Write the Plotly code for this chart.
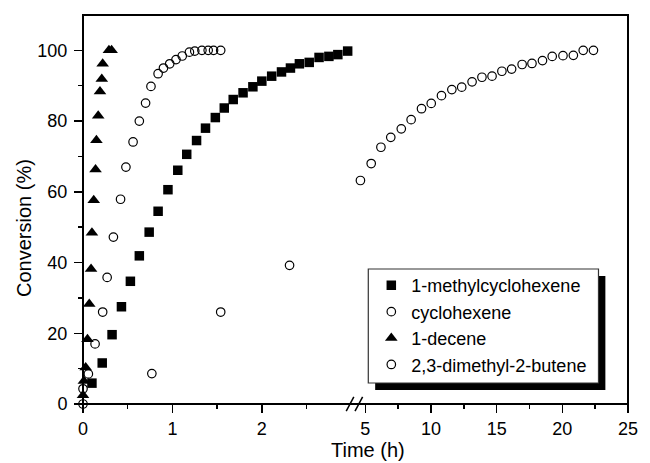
import plotly.graph_objects as go

# ---------------- data ----------------
methylcyclohexene_t = [0.10, 0.215, 0.325, 0.43, 0.53, 0.63, 0.74, 0.84, 0.95, 1.06, 1.16, 1.27,
                       1.37, 1.48, 1.58, 1.68, 1.79, 1.90, 2.00, 2.11, 2.22, 2.32, 2.42, 2.53,
                       2.64, 2.75, 2.85, 2.96]
methylcyclohexene_v = [5.9, 11.6, 19.6, 27.5, 34.7, 41.9, 48.6, 54.5, 60.6, 66.1, 70.6, 74.5,
                       78.0, 81.0, 83.7, 86.1, 88.0, 89.7, 91.3, 92.7, 93.9, 95.0, 96.2, 96.6,
                       98.0, 98.3, 98.8, 99.8]

cyclohexene_t = [0.0, 0.06, 0.135, 0.22, 0.27, 0.34, 0.42, 0.48, 0.56, 0.63, 0.70, 0.76,
                 0.84, 0.90, 0.97, 1.04, 1.11, 1.19, 1.25, 1.33, 1.40, 1.46, 1.54]
cyclohexene_v = [4.3, 8.5, 17.0, 26.0, 35.8, 47.2, 57.9, 67.0, 74.1, 80.0, 85.1, 89.8,
                 93.4, 95.0, 96.2, 97.4, 98.4, 99.5, 99.8, 100, 100, 100, 100]

decene_t = [0.0, 0.01, 0.03, 0.05, 0.07, 0.09, 0.10, 0.12, 0.14, 0.15, 0.17, 0.19,
            0.21, 0.22, 0.29, 0.32]
decene_v = [2.5, 6.5, 10.3, 18.3, 28.3, 38.2, 48.4, 57.6, 66.3, 74.6, 81.5, 88.4,
            91.9, 96.2, 100, 100]

dmb_t = [0.0, 0.77, 1.54, 2.31, 4.63, 5.45, 6.19, 6.94, 7.74, 8.49, 9.28, 10.02,
         10.80, 11.59, 12.34, 13.13, 13.88, 14.65, 15.40, 16.14, 16.94, 17.69, 18.49,
         19.23, 20.05, 20.84, 21.59, 22.37]
dmb_v = [0.0, 8.6, 26.0, 39.2, 63.2, 68.0, 72.6, 75.4, 77.8, 80.4, 83.5, 85.0,
         87.2, 88.9, 89.6, 91.1, 92.4, 92.7, 94.1, 94.7, 96.0, 96.3, 97.1,
         98.3, 98.5, 98.6, 100, 100]

names = ["1-methylcyclohexene", "cyclohexene", "1-decene", "2,3-dimethyl-2-butene"]

left_ticks = [0, 1, 2]
left_minor = [0.5, 1.5, 2.5]
right_ticks = [5, 10, 15, 20, 25]
right_minor = [7.5, 12.5, 17.5, 22.5]
y_ticks = [0, 20, 40, 60, 80, 100]
y_minor = [10, 30, 50, 70, 90]

BREAK_T = 3.0
FONT = "Liberation Sans, Arial, Helvetica, sans-serif"

# ---------------- figure ----------------
fig = go.Figure()

open_circle = dict(symbol="circle-open", size=8.5, color="black",
                   line=dict(width=1.2, color="black"))

fig.add_trace(go.Scatter(x=methylcyclohexene_t, y=methylcyclohexene_v, mode="markers",
                         name=names[0], xaxis="x", yaxis="y", cliponaxis=False,
                         marker=dict(symbol="square", size=9.5, color="black")))
fig.add_trace(go.Scatter(x=cyclohexene_t, y=cyclohexene_v, mode="markers",
                         name=names[1], xaxis="x", yaxis="y", cliponaxis=False,
                         marker=open_circle))
fig.add_trace(go.Scatter(x=decene_t, y=decene_v, mode="markers",
                         name=names[2], xaxis="x", yaxis="y", cliponaxis=False,
                         marker=dict(symbol="triangle-up", size=11, color="black")))

dl_t = [t for t in dmb_t if t <= BREAK_T]
dl_v = [v for t, v in zip(dmb_t, dmb_v) if t <= BREAK_T]
dr_t = [t for t in dmb_t if t > BREAK_T]
dr_v = [v for t, v in zip(dmb_t, dmb_v) if t > BREAK_T]
fig.add_trace(go.Scatter(x=dl_t, y=dl_v, mode="markers", name=names[3],
                         legendgroup="dmb", xaxis="x", yaxis="y", cliponaxis=False,
                         marker=open_circle))
fig.add_trace(go.Scatter(x=dr_t, y=dr_v, mode="markers", name=names[3],
                         legendgroup="dmb", showlegend=False,
                         xaxis="x2", yaxis="y", cliponaxis=False,
                         marker=open_circle))

axis_common = dict(showgrid=False, zeroline=False, showline=False, ticks="outside",
                   ticklen=8, tickwidth=1.5, tickcolor="black",
                   tickfont=dict(family=FONT, size=18, color="black"))

fig.update_layout(
    width=650, height=463,
    margin=dict(l=83, r=13, t=15, b=59),
    paper_bgcolor="white", plot_bgcolor="white",
    font=dict(family=FONT, color="black"),
    xaxis=dict(domain=[0, 0.4922], range=[0, 3], tickvals=left_ticks,
               minor=dict(tickvals=left_minor, ticks="outside", ticklen=4,
                          tickwidth=1.5, tickcolor="black"),
               anchor="y", **axis_common),
    xaxis2=dict(domain=[0.5035, 1], range=[4.4, 25], tickvals=right_ticks,
                minor=dict(tickvals=right_minor, ticks="outside", ticklen=4,
                           tickwidth=1.5, tickcolor="black"),
                anchor="y", **axis_common),
    yaxis=dict(domain=[0, 1], range=[0, 110], tickvals=y_ticks, ticklabelstandoff=3,
               minor=dict(tickvals=y_minor, ticks="outside", ticklen=4,
                          tickwidth=1.5, tickcolor="black"),
               **axis_common),
    showlegend=True,
    legend=dict(x=0.5290, y=0.352, xanchor="left", yanchor="top",
                bgcolor="rgba(0,0,0,0)", borderwidth=0,
                font=dict(family=FONT, size=18, color="black"),
                tracegroupgap=0),
)

def px_x(p):
    return (p - 83) / 554.0

def px_y(p):
    return (404 - p) / 389.0

shapes = [
    # legend shadow
    dict(type="rect", xref="paper", yref="paper", layer="below",
         x0=px_x(380), x1=px_x(614), y0=px_y(390), y1=px_y(276),
         fillcolor="black", line=dict(width=0)),
    # legend box
    dict(type="rect", xref="paper", yref="paper", layer="below",
         x0=px_x(373), x1=px_x(607), y0=px_y(383), y1=px_y(269),
         fillcolor="white", line=dict(color="#333333", width=1.2)),
    # frame
    dict(type="rect", xref="paper", yref="paper", layer="below",
         x0=0, x1=1, y0=0, y1=1, line=dict(color="black", width=2)),
]
# axis-break slashes
for dx0, dx1 in [(-8.3, -0.7), (0.5, 8.1)]:
    shapes.append(dict(type="line", xref="paper", yref="paper",
                       xsizemode="pixel", ysizemode="pixel",
                       xanchor=0.4982, yanchor=0,
                       x0=dx0, x1=dx1, y0=-7.2, y1=7.2,
                       line=dict(color="black", width=1.5)))
fig.update_layout(shapes=shapes)

fig.add_annotation(text="Time (h)", xref="paper", yref="paper", x=px_x(373), y=px_y(450),
                   xanchor="center", yanchor="middle", showarrow=False,
                   font=dict(family=FONT, size=20, color="black"))
fig.add_annotation(text="Conversion (%)", xref="paper", yref="paper", x=px_x(23), y=px_y(228),
                   xanchor="center", yanchor="middle", showarrow=False, textangle=-90,
                   font=dict(family=FONT, size=20, color="black"))

fig.write_html("out.html",
               config={"displayModeBar": False, "staticPlot": True},
               post_script="document.body.style.margin='0';document.body.style.overflow='hidden';")
